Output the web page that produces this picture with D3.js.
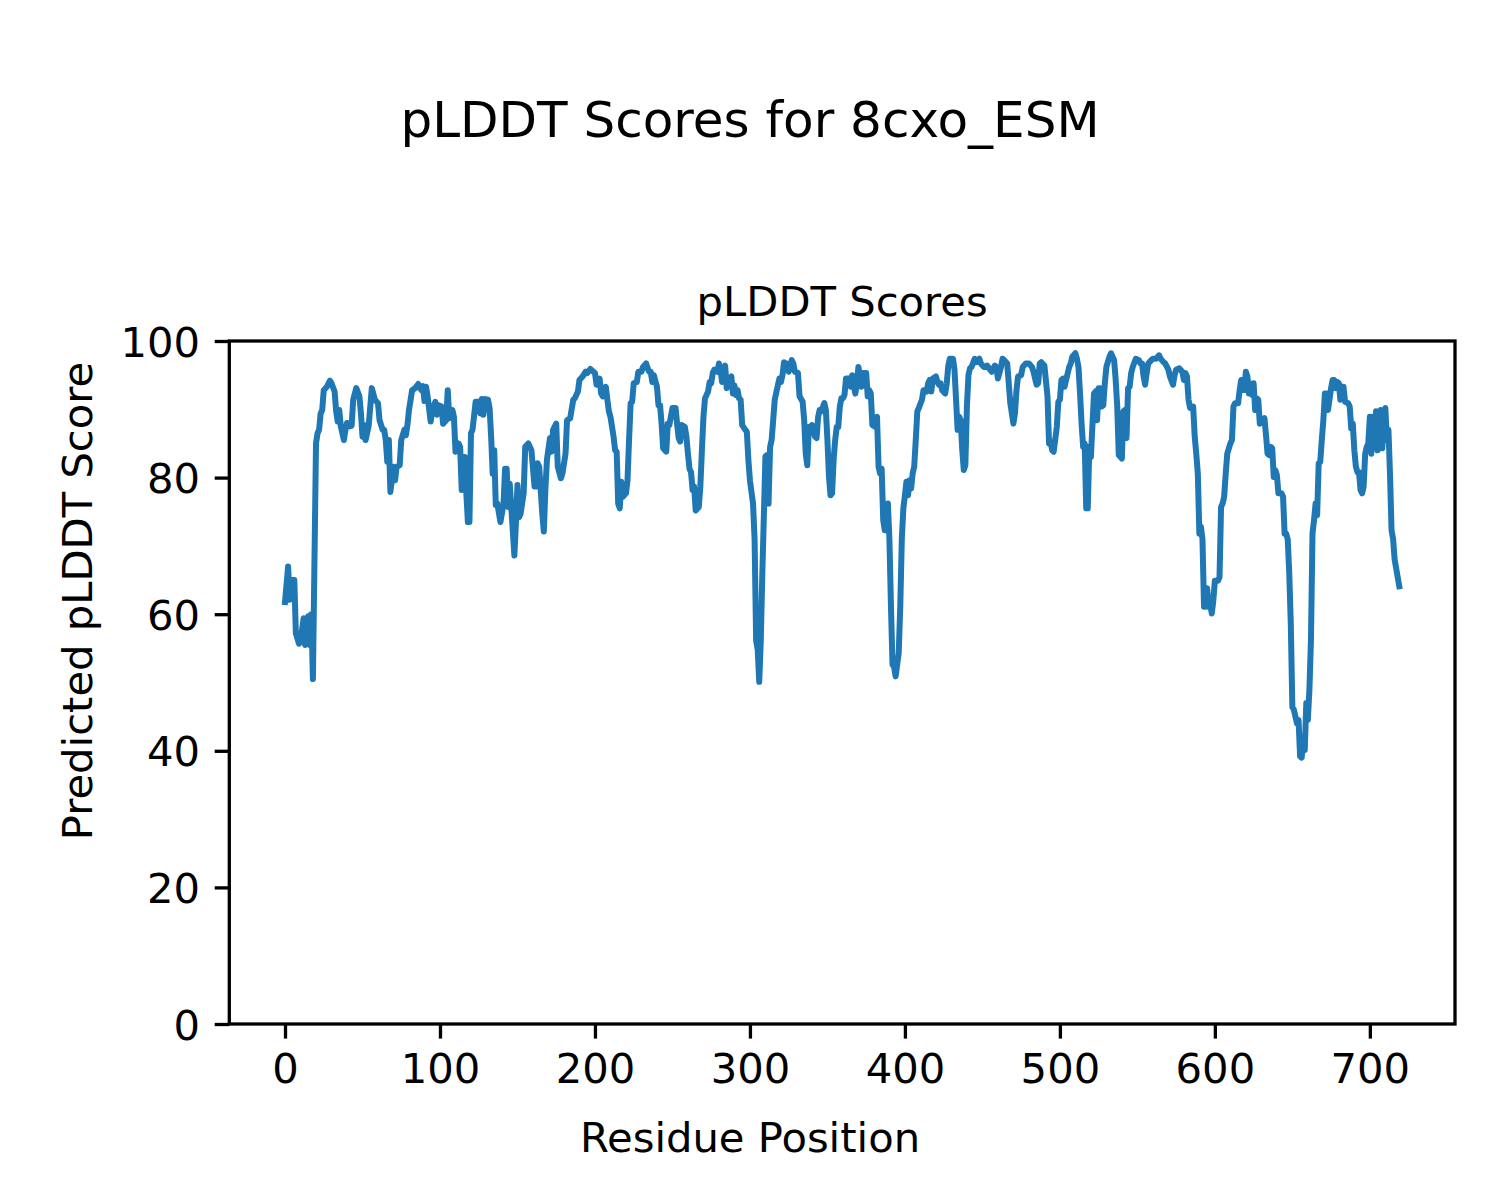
<!DOCTYPE html>
<html>
<head>
<meta charset="utf-8">
<script src="https://cdn.jsdelivr.net/npm/d3@7"></script>
<style>
  html, body { margin: 0; padding: 0; background: #ffffff; }
  svg { display: block; }
  text { font-family: "DejaVu Sans", sans-serif; fill: #000; }
</style>
</head>
<body>
<div id="chart"></div>
<script>
// ---- Data ----
const residue = [
  0,2,3,4,6,7,9,10,12,13,15,16,17,18,20,21,22,23,24,25,27,29,30,32,33,34,35,36,38,39,40,42,43,44,46,48,49,50,51,52,54,56,58,60,61,63,64,65,66,67,68,70,71,72,74,75,77,78,79,80,82,84,86,88,89,
  90,91,92,94,95,97,98,99,101,102,104,105,106,108,109,110,112,113,114,115,116,117,118,119,120,121,123,125,126,127,128,129,131,132,133,134,135,136,137,139,141,142,143,144,145,146,148,149,150,151,152,154,155,157,159,161,162,163,164,166,167,168,169,171,172,173,175,176,178,179,181,182,184,186,187,189,
  190,192,194,195,197,199,200,201,203,204,205,207,208,209,210,212,213,214,215,216,217,218,220,221,222,223,224,225,227,228,230,231,233,234,235,236,237,238,240,241,242,243,244,246,247,248,250,252,253,254,255,256,258,259,260,261,262,263,264,265,267,268,269,270,271,273,274,275,276,277,279,280,281,282,283,284,285,286,288,289,
  290,291,292,293,294,295,297,298,299,300,302,303,304,305,306,307,308,310,311,312,313,314,315,316,318,319,320,321,322,323,324,325,327,328,329,331,332,334,335,336,337,338,339,340,342,343,344,345,346,348,349,350,351,352,353,354,355,356,357,358,359,360,361,362,364,365,366,367,368,369,370,372,373,375,376,377,378,379,381,382,383,384,385,386,387,388,389,
  390,391,392,393,394,396,397,398,399,400,401,402,403,404,405,406,407,408,409,411,412,414,415,416,417,418,420,421,422,423,424,426,427,428,429,431,432,433,434,435,436,437,438,439,440,441,442,443,445,446,448,449,451,452,453,455,456,458,459,460,462,463,464,466,467,468,470,471,472,473,475,476,478,480,482,483,484,485,486,487,488,
  490,492,493,494,495,496,498,499,500,501,502,503,504,506,507,508,510,511,512,513,514,515,516,517,518,519,520,522,523,524,525,526,527,528,529,530,532,533,535,536,537,538,540,541,542,543,544,545,546,547,549,551,552,553,554,555,556,557,559,560,562,564,565,567,568,570,571,573,574,575,577,579,580,581,582,583,584,586,587,588,589,
  590,591,592,593,594,595,596,597,598,599,600,602,603,604,605,606,607,608,610,611,612,613,615,616,617,618,619,620,621,622,623,624,625,626,627,628,629,630,632,633,634,635,636,637,638,639,640,641,643,644,645,646,647,648,649,650,651,653,654,655,656,657,658,659,660,661,662,663,664,665,666,667,668,669,670,671,672,673,675,676,677,678,679,680,681,682,683,684,686,687,688,689,
  690,691,692,693,694,695,696,697,698,699,700,701,702,703,704,705,707,708,709,710,711,712,713,714,715,716,719
];
const plddt = [
  61.8,67.0,62.1,65.0,65.0,57.2,55.7,56.0,59.4,55.5,59.7,55.5,60.0,50.5,85.0,86.5,87.0,89.4,89.9,92.8,93.3,94.2,93.8,92.6,89.7,88.2,89.9,87.5,85.5,87.0,88.0,87.5,87.6,91.4,93.1,91.9,89.4,86.0,87.7,85.5,87.6,93.1,91.4,90.9,88.4,87.0,87.0,85.5,82.3,85.5,77.9,81.6,79.6,81.6,81.8,85.5,87.0,86.2,87.7,89.9,92.8,93.1,93.7,92.8,93.4,
  91.2,93.3,91.9,88.2,89.9,91.1,89.2,90.6,90.4,87.9,88.4,92.8,88.7,89.9,88.9,83.8,85.0,84.5,78.2,83.0,83.0,77.7,73.5,73.5,86.5,87.0,91.1,91.1,89.4,91.5,89.2,91.5,91.4,90.2,86.0,80.6,84.0,76.0,76.2,73.5,76.2,81.3,81.3,75.7,79.1,75.7,68.6,73.3,78.9,74.2,74.7,77.7,84.5,85.0,84.0,78.7,78.7,82.1,81.6,74.7,72.1,78.2,82.6,85.8,83.8,87.0,87.9,81.6,79.9,80.6,83.5,88.4,88.7,91.4,91.6,92.6,
  94.3,94.8,95.5,95.3,95.9,95.5,95.3,93.6,94.5,92.3,91.9,93.3,91.4,89.7,88.9,86.0,84.0,83.8,76.2,75.5,79.4,77.2,77.7,79.6,85.5,90.9,91.1,93.8,94.0,95.5,95.5,96.2,96.7,96.0,95.5,95.5,94.0,95.0,93.3,90.6,90.6,87.9,84.3,83.8,87.9,87.7,90.2,90.2,87.9,85.8,85.3,87.7,87.4,86.0,83.5,81.3,80.8,78.2,78.7,75.2,75.7,78.7,84.0,88.9,91.6,92.6,94.0,93.8,95.3,95.8,95.5,96.7,95.8,94.0,95.3,96.4,93.1,94.3,94.8,92.3,
  93.5,92.1,92.8,91.6,91.4,87.7,87.0,86.7,82.6,79.6,76.2,71.0,56.2,54.8,50.1,56.2,66.0,83.1,83.3,76.2,84.5,85.5,88.4,91.4,93.5,94.5,94.0,95.0,96.9,96.0,96.7,95.5,97.2,96.7,95.5,95.3,91.9,91.1,88.4,83.5,81.8,87.4,87.2,87.7,86.0,85.8,88.9,89.9,89.7,90.9,89.9,85.5,80.1,77.4,77.7,82.6,85.5,87.4,87.4,90.4,91.6,91.6,92.1,94.5,94.5,93.3,95.0,93.5,92.3,93.8,96.2,93.3,95.3,95.3,91.9,92.8,92.3,87.7,87.4,88.9,81.6,80.6,81.3,73.8,72.3,72.3,76.2,
  71.0,61.1,52.6,52.3,50.9,54.3,61.1,71.0,75.5,77.4,79.4,77.4,79.6,78.4,80.6,81.6,85.5,89.7,90.2,91.4,92.8,92.6,93.8,94.3,92.6,94.5,94.8,94.0,93.6,93.8,92.8,92.3,93.8,96.4,97.4,97.4,95.8,91.4,87.0,88.9,88.4,84.0,81.1,81.8,90.4,95.0,96.0,96.2,97.4,96.9,97.4,96.7,96.2,96.2,96.4,95.8,95.5,96.4,96.2,94.5,96.2,97.4,97.2,96.7,93.8,90.9,87.9,89.4,92.8,94.8,95.0,96.2,96.7,96.7,96.2,95.5,94.5,93.6,93.8,96.7,96.9,
  96.4,91.9,85.0,85.3,84.0,83.8,87.4,91.1,91.4,94.3,94.5,93.3,94.3,96.2,96.7,97.7,98.2,97.4,96.2,92.3,87.9,84.5,85.0,75.5,75.5,84.5,83.0,92.3,92.6,88.4,93.1,93.1,90.4,90.6,93.8,96.2,97.7,98.2,97.2,94.3,90.4,83.3,82.8,89.7,89.9,85.8,93.1,93.3,95.3,96.2,97.4,97.2,96.7,96.7,94.8,93.6,95.3,96.7,97.2,97.4,97.4,97.9,97.4,96.9,96.7,95.8,94.8,93.6,95.0,95.8,96.0,95.5,94.3,95.3,94.8,91.4,90.2,90.4,86.0,83.5,80.6,
  71.8,72.8,71.0,61.1,61.1,63.8,61.1,61.6,60.1,62.0,64.9,64.9,65.4,75.7,76.2,77.2,80.6,83.5,85.0,85.5,90.4,90.9,90.9,92.8,94.3,93.8,92.8,95.5,94.8,92.3,93.8,92.1,93.8,89.9,91.6,91.4,87.9,88.2,88.7,86.2,83.5,83.3,84.5,84.3,80.1,81.1,80.4,77.7,77.7,77.2,71.8,71.8,71.0,66.0,58.5,46.4,46.0,44.0,44.5,39.2,39.0,41.5,40.1,47.0,44.5,48.9,56.2,71.8,73.8,76.2,74.5,82.1,82.3,85.5,88.4,92.3,92.3,89.9,93.1,94.3,94.3,93.1,94.0,93.8,91.4,93.3,93.3,91.1,90.9,90.4,87.2,87.9,
  84.0,81.6,80.8,80.8,78.2,77.7,78.7,83.5,84.5,85.0,88.9,83.5,88.9,84.5,89.7,84.0,89.9,84.3,88.9,90.2,85.5,87.0,80.6,72.3,71.0,68.0,64.1
];
const xTicks = [0, 100, 200, 300, 400, 500, 600, 700];
const yTicks = [0, 20, 40, 60, 80, 100];
const figTitle = "pLDDT Scores for 8cxo_ESM";
const axTitle = "pLDDT Scores";
const xLabel = "Residue Position";
const yLabel = "Predicted pLDDT Score";

// ---- Layout ----
const W = 1500, H = 1200;
const axL = 229.3, axR = 1455, axT = 341, axB = 1024;
const tickLen = 14.6, fs = 41.7;

const svg = d3.select("#chart").append("svg")
  .attr("width", W).attr("height", H);
svg.append("rect").attr("width", W).attr("height", H).attr("fill", "#fff");

const xmin = d3.min(residue), xmax = d3.max(residue);
const xpad = (xmax - xmin) * 0.05;
const x = d3.scaleLinear().domain([xmin - xpad, xmax + xpad]).range([axL, axR]);
const y = d3.scaleLinear().domain([0, 100]).range([axB, axT]);

const data = residue.map((r, i) => [r, plddt[i]]);

const line = d3.line().x(d => x(d[0])).y(d => y(d[1]));
svg.append("path")
  .datum(data)
  .attr("d", line)
  .attr("fill", "none")
  .attr("stroke", "#1f77b4")
  .attr("stroke-width", 6)
  .attr("stroke-linejoin", "round")
  .attr("stroke-linecap", "square");

// axes
const xAxis = d3.axisBottom(x).tickValues(xTicks).tickSize(tickLen).tickPadding(14.6).tickFormat(d3.format("d"));
const gx = svg.append("g").attr("transform", `translate(0,${axB})`).call(xAxis);
const yAxis = d3.axisLeft(y).tickValues(yTicks).tickSize(tickLen).tickPadding(14.6).tickFormat(d3.format("d"));
const gy = svg.append("g").attr("transform", `translate(${axL},0)`).call(yAxis);

[gx, gy].forEach(g => {
  g.select(".domain").remove();
  g.selectAll(".tick line").attr("stroke", "#000").attr("stroke-width", 3.3);
  g.selectAll(".tick text")
    .attr("font-family", "DejaVu Sans, sans-serif")
    .attr("font-size", fs)
    .attr("fill", "#000");
});
gx.selectAll(".tick text").attr("dy", "0.71em");
gy.selectAll(".tick text").attr("dy", "0.36em");

// spines
svg.append("rect")
  .attr("x", axL).attr("y", axT)
  .attr("width", axR - axL).attr("height", axB - axT)
  .attr("fill", "none").attr("stroke", "#000").attr("stroke-width", 3.3);

// titles and labels
svg.append("text").attr("x", 750).attr("y", 137)
  .attr("text-anchor", "middle").attr("font-size", 50).text(figTitle);
svg.append("text").attr("x", (axL + axR) / 2).attr("y", 316)
  .attr("text-anchor", "middle").attr("font-size", fs).text(axTitle);
svg.append("text").attr("x", 750).attr("y", 1152)
  .attr("text-anchor", "middle").attr("font-size", fs).text(xLabel);
svg.append("text")
  .attr("transform", "translate(92,601) rotate(-90)")
  .attr("text-anchor", "middle").attr("font-size", fs).text(yLabel);
</script>
</body>
</html>
